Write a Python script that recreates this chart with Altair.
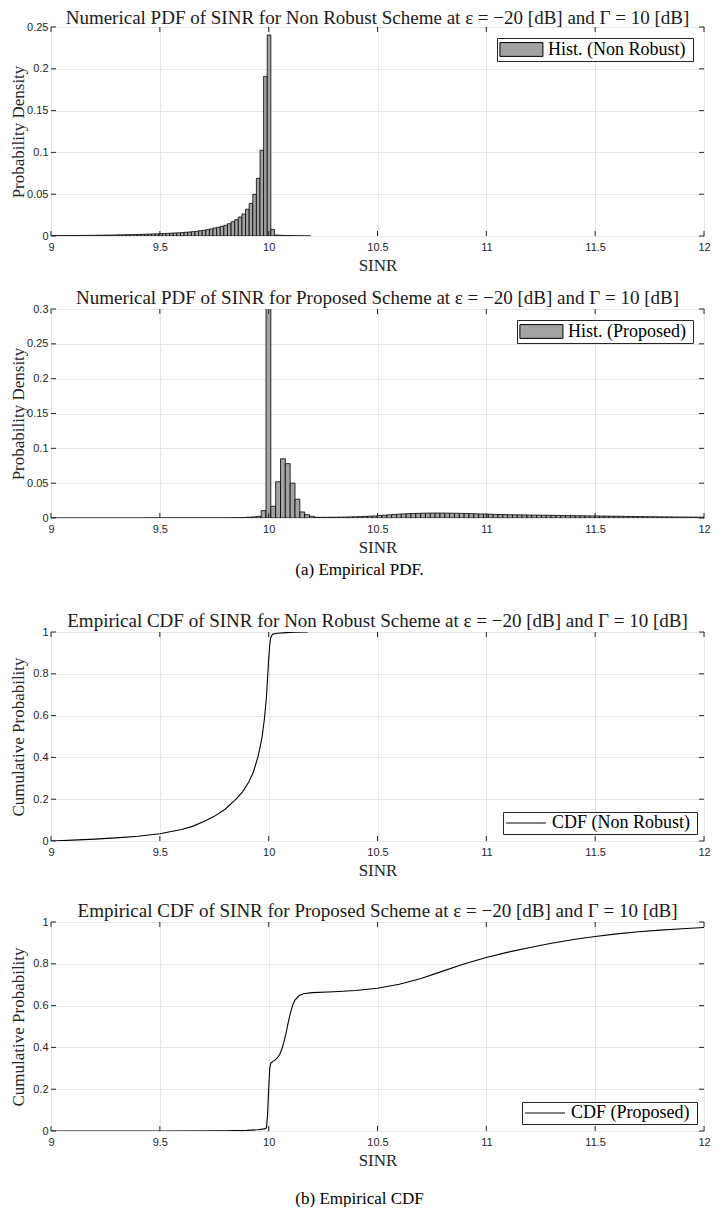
import altair as alt
import pandas as pd

SERIF = "Liberation Serif"
SANS = "Liberation Sans"

X_TICKS = [9, 9.5, 10, 10.5, 11, 11.5, 12]

TITLE1 = "Numerical PDF of SINR for Non Robust Scheme at ε = −20 [dB] and Γ = 10 [dB]"
TITLE2 = "Numerical PDF of SINR for Proposed Scheme at ε = −20 [dB] and Γ = 10 [dB]"
TITLE3 = "Empirical CDF of SINR for Non Robust Scheme at ε = −20 [dB] and Γ = 10 [dB]"
TITLE4 = "Empirical CDF of SINR for Proposed Scheme at ε = −20 [dB] and Γ = 10 [dB]"
CAP_A = "(a)  Empirical PDF."
CAP_B = "(b)  Empirical CDF"

# ---- histogram (Non Robust): bin width, bin edge at 10.01, first bin index
NR_BIN_W = 0.0166
NR_EDGE = 10.01
NR_K0 = -61
NR_HEIGHTS = [
    0.0004, 0.0004, 0.0004, 0.0005, 0.0005, 0.0005, 0.0006, 0.0006, 0.0007, 0.0007,
    0.0008, 0.0008, 0.0009, 0.0009, 0.0010, 0.0011, 0.0011, 0.0012, 0.0013, 0.0014,
    0.0015, 0.0016, 0.0017, 0.0018, 0.0019, 0.0020, 0.0022, 0.0023, 0.0025, 0.0026,
    0.0028, 0.0030, 0.0032, 0.0034, 0.0036, 0.0038, 0.0041, 0.0044,
    0.0048, 0.0052, 0.0056, 0.0064, 0.0068, 0.0076, 0.0084, 0.0096, 0.0104, 0.0116,
    0.0128, 0.0147, 0.0171, 0.0195, 0.0227, 0.0263, 0.0320, 0.0390, 0.0499, 0.0690,
    0.1025, 0.1910, 0.2404,
    0.0080, 0.0012, 0.0009, 0.0007, 0.0005, 0.0004, 0.0003, 0.0002, 0.0002, 0.0001, 0.0001,
]

# ---- histogram (Proposed)
PR_BIN_W = 0.0222
PR_EDGE = 10.01
PR_K0 = -46
PR_HEIGHTS = [
    0.0, 0.0, 0.0, 0.0, 0.0, 0.0, 0.0, 0.0, 0.0, 0.0,
    0.0, 0.0, 0.0, 0.0, 0.0, 0.0, 0.0, 0.0, 0.0, 0.0,
    0.0001, 0.0001, 0.0001, 0.0001, 0.0001, 0.0001, 0.0001, 0.0001, 0.0001, 0.0001,
    0.0001, 0.0001, 0.0001, 0.0001, 0.0001,
    0.0001, 0.0002, 0.0002, 0.0003, 0.0004, 0.0006, 0.0012, 0.0016, 0.0024, 0.0106, 0.3200,
    0.0168, 0.0520, 0.0850, 0.0780, 0.0500, 0.0270, 0.0087, 0.0048, 0.0024,
    0.0010, 0.0010, 0.0010, 0.0011, 0.0012, 0.0013, 0.0014, 0.0016, 0.0018, 0.0020,
    0.0023, 0.0026, 0.0029,
    0.0036, 0.0041, 0.0046, 0.0051, 0.0055, 0.0059, 0.0062, 0.0065, 0.0067, 0.0069,
    0.0070, 0.0071, 0.0071, 0.0071, 0.0070, 0.0069, 0.0068, 0.0066, 0.0064, 0.0062,
    0.0060, 0.0058, 0.0056,
    0.0054, 0.0052, 0.0050, 0.0049, 0.0047, 0.0046, 0.0045, 0.0044, 0.0043, 0.0042,
    0.0041, 0.0040, 0.0039, 0.0038, 0.0037, 0.0036, 0.0035, 0.0034, 0.0033, 0.0032,
    0.0031, 0.0030,
    0.0029, 0.0028, 0.0027, 0.0026, 0.0025, 0.0024, 0.0023, 0.0022, 0.0021, 0.0020,
    0.0019, 0.0018, 0.0018, 0.0017, 0.0016, 0.0016, 0.0015, 0.0014, 0.0014, 0.0013,
    0.0013, 0.0012, 0.0012,
]

# ---- empirical CDFs
NR_CDF_X = [9.00, 9.10, 9.20, 9.30, 9.40, 9.50, 9.60, 9.65, 9.70, 9.75, 9.80, 9.85, 9.88,
            9.91, 9.93, 9.95, 9.96, 9.97, 9.98, 9.99, 9.995, 10.000, 10.005, 10.010,
            10.015, 10.020, 10.040, 10.080, 10.120, 10.180]
NR_CDF_Y = [0.000, 0.004, 0.009, 0.015, 0.023, 0.035, 0.055, 0.070, 0.092, 0.118, 0.152,
            0.200, 0.235, 0.285, 0.330, 0.400, 0.445, 0.500, 0.580, 0.690, 0.780, 0.870,
            0.940, 0.975, 0.985, 0.990, 0.994, 0.997, 0.999, 1.000]

PR_CDF_X = [9.00, 9.50, 9.80, 9.90, 9.95, 9.98, 9.99, 9.995, 10.000, 10.005, 10.010, 10.020,
            10.030, 10.040, 10.050, 10.060, 10.070, 10.080, 10.090, 10.100, 10.110, 10.120,
            10.140, 10.160, 10.200, 10.300, 10.400, 10.500, 10.600, 10.700, 10.800, 10.900,
            11.000, 11.100, 11.200, 11.300, 11.400, 11.500, 11.600, 11.700, 11.800, 11.900,
            12.000]
PR_CDF_Y = [0.000, 0.000, 0.001, 0.003, 0.006, 0.010, 0.015, 0.080, 0.200, 0.300, 0.325,
            0.333, 0.340, 0.350, 0.365, 0.390, 0.425, 0.470, 0.520, 0.565, 0.600, 0.625,
            0.648, 0.657, 0.662, 0.666, 0.672, 0.683, 0.702, 0.730, 0.765, 0.800, 0.830,
            0.856, 0.878, 0.898, 0.916, 0.931, 0.943, 0.953, 0.961, 0.968, 0.974]

PDF1_TICKS = [0, 0.05, 0.1, 0.15, 0.2, 0.25]
PDF2_TICKS = [0, 0.05, 0.1, 0.15, 0.2, 0.25, 0.3]
CDF_TICKS = [0, 0.2, 0.4, 0.6, 0.8, 1]

W = 653
H = 209
TL = 5  # inward tick length
GRID = "#e6e6e6"
TXT = "#262626"
XDOM = [9, 12]


def hist_df(k0, w, edge, heights, label):
    rows = []
    for i, h in enumerate(heights):
        k = k0 + i
        rows.append({"x0": edge + k * w, "x1": edge + (k + 1) * w, "h": h, "s": label})
    return pd.DataFrame(rows)


def x_axis():
    return alt.Axis(values=X_TICKS, format="~g", title="SINR", labelFont=SANS,
                    labelFontSize=11, labelPadding=5, labelColor=TXT, labelFlush=False,
                    titleFont=SERIF, titleFontSize=17, titleFontWeight="normal",
                    titleColor=TXT, titlePadding=5.5, ticks=False, domain=False,
                    grid=True, gridColor=GRID)


def y_axis(title, ticks):
    return alt.Axis(values=ticks, format="~g", title=title, labelFont=SANS,
                    labelFontSize=11, labelPadding=3, labelColor=TXT, labelFlush=False,
                    titleFont=SERIF, titleFontSize=17, titleFontWeight="normal",
                    titleColor=TXT, titlePadding=0, ticks=False, domain=False,
                    grid=True, gridColor=GRID, minExtent=24, maxExtent=24)


def legend(orient, symbol, size, label_offset, offset, fill=None):
    kw = dict(title=None, orient=orient, offset=offset, fillColor="white",
              strokeColor=TXT, padding=2, labelFont=SERIF, labelFontSize=18,
              labelColor="black", symbolType=symbol, symbolSize=size,
              symbolStrokeColor="black", symbolStrokeWidth=1, symbolOpacity=1,
              labelLimit=400, labelOffset=label_offset)
    if fill is not None:
        kw["symbolFillColor"] = fill
    return alt.Legend(**kw)


def title(text, offset=-5):
    return alt.TitleParams(text, font=SERIF, fontSize=19, fontWeight="normal",
                           color="#1a1a1a", offset=offset, anchor="middle")


def tick_layers(yscale, yticks, ytitle):
    xt = pd.DataFrame({"t": X_TICKS})
    yt = pd.DataFrame({"v": yticks})
    xs = alt.X("t:Q", scale=alt.Scale(domain=XDOM, nice=False, zero=False), axis=x_axis())
    ys = alt.Y("v:Q", scale=yscale, axis=y_axis(ytitle, yticks))
    top = alt.Chart(xt).mark_rule(color=TXT, strokeWidth=1).encode(
        x=xs, y=alt.value(0), y2=alt.value(TL))
    bot = alt.Chart(xt).mark_rule(color=TXT, strokeWidth=1).encode(
        x=xs, y=alt.value(H - TL), y2=alt.value(H))
    lft = alt.Chart(yt).mark_rule(color=TXT, strokeWidth=1).encode(
        y=ys, x=alt.value(0), x2=alt.value(TL))
    rgt = alt.Chart(yt).mark_rule(color=TXT, strokeWidth=1).encode(
        y=ys, x=alt.value(W - TL), x2=alt.value(W))
    return [top, bot, lft, rgt]


def hist_panel(df, label, ymax, yticks, ttl, toff):
    yscale = alt.Scale(domain=[0, ymax], nice=False)
    ytitle = "Probability Density"
    bars = alt.Chart(df).mark_bar(
        stroke="black", strokeWidth=0.8, clip=True, opacity=1
    ).encode(
        x=alt.X("x0:Q", scale=alt.Scale(domain=XDOM, nice=False, zero=False), axis=x_axis()),
        x2="x1:Q",
        y=alt.Y("h:Q", scale=yscale, axis=y_axis(ytitle, yticks)),
        y2=alt.datum(0),
        color=alt.Color("s:N", scale=alt.Scale(domain=[label], range=["#a3a3a3"]),
                        legend=legend("top-right", "M-1,-0.8H4V0.8H-1Z", 296, 30, 11)),
    )
    return alt.layer(bars, *tick_layers(yscale, yticks, ytitle)).properties(
        width=W, height=H, title=title(ttl, toff))


def cdf_panel(xs, ys, label, ttl):
    df = pd.DataFrame({"x": xs, "y": ys, "s": [label] * len(xs)})
    yscale = alt.Scale(domain=[0, 1], nice=False)
    ytitle = "Cumulative Probability"
    line = alt.Chart(df).mark_line(strokeWidth=1.1, clip=True).encode(
        x=alt.X("x:Q", scale=alt.Scale(domain=XDOM, nice=False, zero=False), axis=x_axis()),
        y=alt.Y("y:Q", scale=yscale, axis=y_axis(ytitle, CDF_TICKS)),
        color=alt.Color("s:N", scale=alt.Scale(domain=[label], range=["black"]),
                        legend=legend("bottom-right", "M-1,0H4", 256, 29, 7, "transparent")),
    )
    return alt.layer(line, *tick_layers(yscale, CDF_TICKS, ytitle)).properties(
        width=W, height=H, title=title(ttl))


p1 = hist_panel(hist_df(NR_K0, NR_BIN_W, NR_EDGE, NR_HEIGHTS, "Hist.  (Non Robust)"),
                "Hist.  (Non Robust)", 0.25, PDF1_TICKS, TITLE1, -7)
p2 = hist_panel(hist_df(PR_K0, PR_BIN_W, PR_EDGE, PR_HEIGHTS, "Hist.  (Proposed)"),
                "Hist.  (Proposed)", 0.3, PDF2_TICKS, TITLE2, -5)
p3 = cdf_panel(NR_CDF_X, NR_CDF_Y, "CDF  (Non Robust)", TITLE3)
p4 = cdf_panel(PR_CDF_X, PR_CDF_Y, "CDF  (Proposed)", TITLE4)


def caption(text, offset):
    return alt.TitleParams(text, orient="bottom", anchor="middle", font=SERIF, fontSize=17,
                           fontWeight="normal", color="black", offset=offset)


ga = alt.vconcat(p1, p2, spacing=14).resolve_scale(color="independent").properties(title=caption(CAP_A, 6))
gb = alt.vconcat(p3, p4, spacing=22).resolve_scale(color="independent").properties(title=caption(CAP_B, 22))

chart = alt.vconcat(ga, gb, spacing=33).properties(padding=0).configure_view(
    stroke="#4d4d4d", strokeWidth=1
).resolve_scale(color="independent")

chart.save("out.html", embed_options={"renderer": "svg", "actions": False})
